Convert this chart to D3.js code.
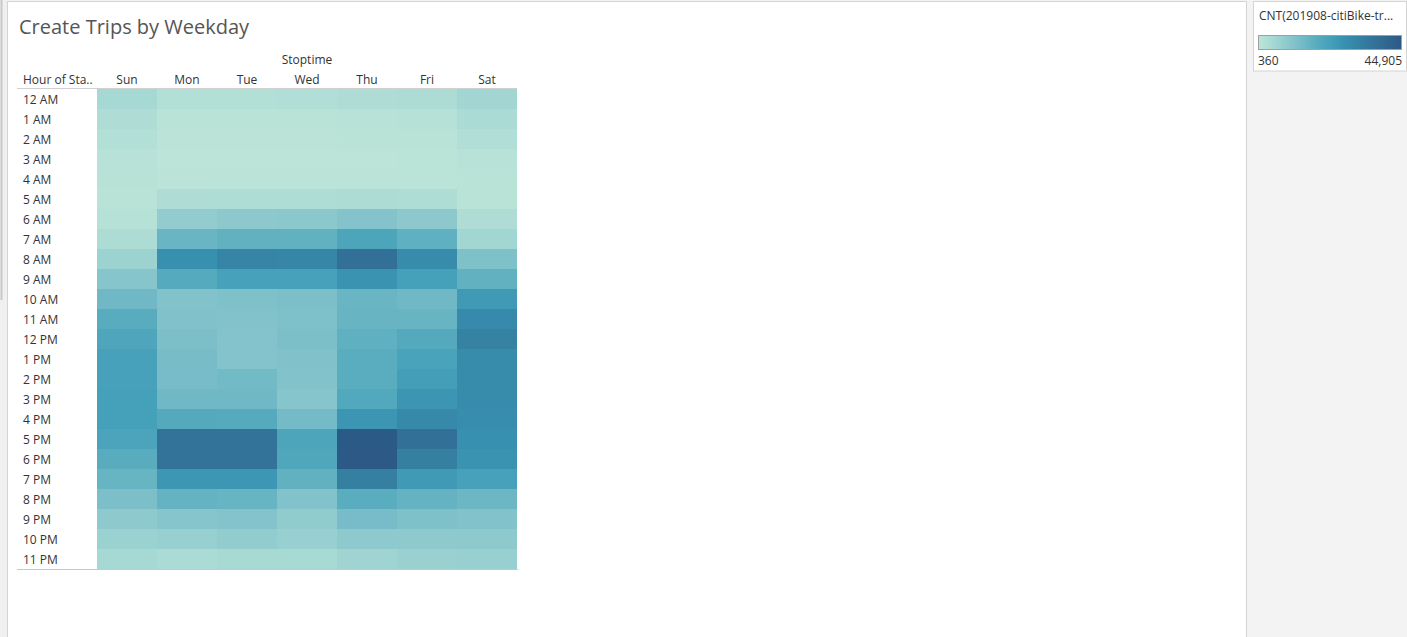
<!DOCTYPE html>
<html>
<head>
<meta charset="utf-8">
<script src="https://d3js.org/d3.v7.min.js"></script>
<style>
body { margin: 0; background: #f3f3f3; font-family: "Open Sans", "Noto Sans", sans-serif; }
svg { display: block; }
</style>
</head>
<body>
<svg width="1407" height="637"></svg>
<script>
// Data: trip counts by hour of start time (rows) and stoptime weekday (columns)
var days = ["Sun", "Mon", "Tue", "Wed", "Thu", "Fri", "Sat"];
var hours = ["12 AM", "1 AM", "2 AM", "3 AM", "4 AM", "5 AM", "6 AM", "7 AM", "8 AM", "9 AM", "10 AM", "11 AM",
             "12 PM", "1 PM", "2 PM", "3 PM", "4 PM", "5 PM", "6 PM", "7 PM", "8 PM", "9 PM", "10 PM", "11 PM"];

var sun = [4810, 3041, 2150, 1248, 1032, 811, 1702, 3470, 6590, 10612, 14608, 18630, 20410, 22180, 22195, 22640, 22628, 21290, 18615, 15960, 12380, 9274, 7036, 4820];
var mon = [2138, 812, 577, 360, 588, 3029, 8384, 15498, 27092, 19075, 11490, 11502, 12393, 13270, 13285, 14620, 19508, 36004, 35988, 25310, 16390, 10611, 7480, 3930];
var tue = [2146, 801, 590, 371, 497, 3262, 9708, 16850, 30644, 22193, 11948, 11490, 11057, 11044, 14175, 14607, 19062, 35990, 36010, 25298, 15958, 11045, 8372, 4375];
var wed = [2590, 809, 579, 366, 490, 3250, 9720, 16836, 30210, 22180, 12392, 11936, 12381, 11502, 11489, 10611, 13730, 20857, 20398, 16848, 11490, 8830, 7493, 4362];
var thu = [3028, 1255, 712, 380, 499, 3484, 11046, 20858, 36880, 26190, 15510, 15944, 17293, 18172, 18185, 19966, 25745, 44460, 44905, 32438, 18170, 13284, 9262, 6157];
var fri = [3484, 1690, 809, 488, 501, 3249, 9708, 17293, 28430, 22627, 14620, 15957, 19520, 21748, 23072, 25757, 29308, 36893, 32426, 24420, 16402, 11936, 9275, 7048];
var sat = [5711, 3918, 2593, 1245, 810, 799, 3027, 5699, 11948, 16836, 24420, 28862, 31548, 28417, 28430, 28415, 27984, 27081, 26202, 22193, 15066, 11490, 9262, 7481];

var byDay = [sun, mon, tue, wed, thu, fri, sat];
var minVal = 360, maxVal = 44905;

// Blue-Teal ramp
var ramp = ["#bce4d8", "#a6d9d4", "#8ec9cd", "#75bbc7", "#5aadbf", "#45a0b9", "#3890b0", "#3582a3", "#337399", "#30668f", "#2c5985"];

var svg = d3.select("svg");

// page frame
svg.append("rect").attr("x", 0).attr("y", 0).attr("width", 7).attr("height", 637).attr("fill", "#f0f0f0");
svg.append("line").attr("x1", 1.5).attr("x2", 1.5).attr("y1", 0).attr("y2", 300).attr("stroke", "#c8c8c8").attr("stroke-width", 2);
svg.append("rect").attr("x", 7.5).attr("y", 1.5).attr("width", 1239).attr("height", 640)
    .attr("fill", "#fff").attr("stroke", "#d4d4d4");

svg.append("text")
    .attr("x", 19).attr("y", 34)
    .attr("fill", "#555")
    .style("font-size", "20px")
    .text("Create Trips by Weekday");

var x = d3.scaleBand().domain(days).range([97, 517]);
var y = d3.scaleBand().domain(hours).range([89, 569]);
var color = d3.scaleLinear()
    .domain(ramp.map(function(d, i) { return minVal + (maxVal - minVal) * i / (ramp.length - 1); }))
    .range(ramp)
    .interpolate(d3.interpolateRgb);

// cells
var cells = [];
days.forEach(function(day, j) {
    hours.forEach(function(h, i) {
        cells.push({ day: day, hour: h, value: byDay[j][i] });
    });
});

svg.append("g").selectAll("rect")
    .data(cells)
    .enter().append("rect")
    .attr("x", function(d) { return x(d.day); })
    .attr("y", function(d) { return y(d.hour); })
    .attr("width", x.bandwidth())
    .attr("height", y.bandwidth())
    .attr("fill", function(d) { return color(d.value); });

// header
svg.append("text")
    .attr("x", (x.range()[0] + x.range()[1]) / 2).attr("y", 64)
    .attr("text-anchor", "middle").attr("fill", "#333")
    .style("font-size", "12px")
    .text("Stoptime");

svg.append("g").selectAll("text")
    .data(days)
    .enter().append("text")
    .attr("x", function(d) { return x(d) + x.bandwidth() / 2; })
    .attr("y", 84)
    .attr("text-anchor", "middle").attr("fill", "#333")
    .style("font-size", "12px")
    .text(function(d) { return d; });

svg.append("text")
    .attr("x", 23).attr("y", 84)
    .attr("fill", "#333")
    .style("font-size", "12px")
    .text("Hour of Sta..");

svg.append("g").selectAll("text")
    .data(hours)
    .enter().append("text")
    .attr("x", 23)
    .attr("y", function(d) { return y(d) + y.bandwidth() / 2 + 5; })
    .attr("fill", "#333")
    .style("font-size", "12px")
    .text(function(d) { return d; });

svg.append("line").attr("x1", 17).attr("x2", 517).attr("y1", 88.5).attr("y2", 88.5).attr("stroke", "#d0d0d0");
svg.append("line").attr("x1", 17).attr("x2", 518).attr("y1", 569.5).attr("y2", 569.5).attr("stroke", "#c8c8c8");

// legend
var lg = svg.append("g");
lg.append("rect").attr("x", 1253.5).attr("y", 1.5).attr("width", 153).attr("height", 69.5)
    .attr("fill", "#fff").attr("stroke", "#d4d4d4");
lg.append("text").attr("x", 1259).attr("y", 20).attr("fill", "#333")
    .style("font-size", "12px").text("CNT(201908-citiBike-tr...");

var grad = svg.append("defs").append("linearGradient").attr("id", "lgrad");
grad.selectAll("stop")
    .data(ramp)
    .enter().append("stop")
    .attr("offset", function(d, i) { return (i / (ramp.length - 1) * 100) + "%"; })
    .attr("stop-color", function(d) { return d; });

var lx = d3.scaleLinear().domain([minVal, maxVal]).range([1258.5, 1401.5]);
lg.append("rect").attr("x", lx(minVal)).attr("y", 35.5).attr("width", lx(maxVal) - lx(minVal)).attr("height", 14)
    .attr("fill", "url(#lgrad)").attr("stroke", "#a0a0a0");
lg.append("text").attr("x", lx(minVal) - 0.5).attr("y", 65).attr("fill", "#333")
    .style("font-size", "12px").text(d3.format(",")(minVal));
lg.append("text").attr("x", lx(maxVal) + 0.5).attr("y", 65).attr("text-anchor", "end").attr("fill", "#333")
    .style("font-size", "12px").text(d3.format(",")(maxVal));
</script>
</body>
</html>
